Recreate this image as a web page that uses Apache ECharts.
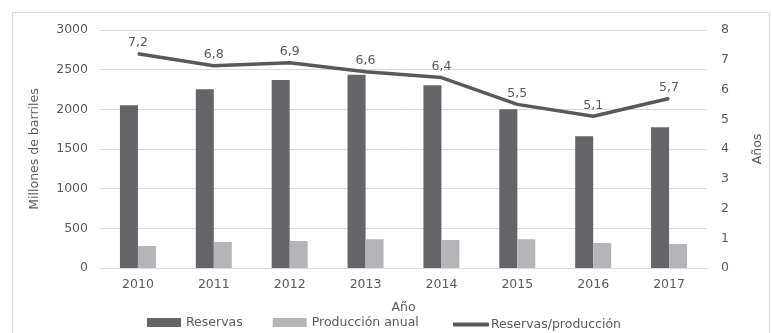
<!DOCTYPE html>
<html>
<head>
<meta charset="utf-8">
<script src="https://cdn.jsdelivr.net/npm/echarts@6/dist/echarts.min.js"></script>
<style>
  html, body { margin: 0; padding: 0; background: #fff; }
  #chart { width: 772px; height: 333px; }
</style>
</head>
<body>
<div id="chart"></div>
<script>
// data
const years = ['2010', '2011', '2012', '2013', '2014', '2015', '2016', '2017']
const reservas = [2050, 2252, 2370, 2437, 2303, 2000, 1660, 1773]
const produccion = [277, 328, 340, 362, 353, 362, 315, 302]
const ratio = [7.2, 6.8, 6.9, 6.6, 6.4, 5.5, 5.1, 5.7]

const font = '"DejaVu Sans", sans-serif'
const txt = '#595959'
const fs = 12.5

const myChart = echarts.init(document.getElementById('chart'))
const option = {
  animation: false,
  textStyle: { fontFamily: font, color: txt },
  graphic: [{
    type: 'rect',
    shape: { x: 12.5, y: 12.5, width: 757, height: 340 },
    style: { fill: 'none', stroke: '#d9d9d9', lineWidth: 1 },
    silent: true
  }],
  grid: { left: 100, right: 59, top: 30, bottom: 65 },
  legend: [{
    top: 316,
    left: 147,
    padding: 0,
    itemGap: 30,
    itemWidth: 34,
    itemHeight: 9,
    textStyle: { fontFamily: font, color: txt, fontSize: fs },
    data: [
      { name: 'Reservas', icon: 'rect' },
      { name: 'Producción anual', icon: 'rect' }
    ]
  }, {
    top: 318,
    left: 453,
    padding: 0,
    itemWidth: 36,
    itemHeight: 4,
    textStyle: { fontFamily: font, color: txt, fontSize: fs, padding: [0, 0, 0, -3] },
    data: [{ name: 'Reservas/producción', icon: 'roundRect' }]
  }],
  xAxis: {
    type: 'category',
    data: years,
    name: 'Año',
    nameLocation: 'middle',
    nameGap: 33,
    nameTextStyle: { fontFamily: font, color: txt, fontSize: fs },
    axisLine: { lineStyle: { color: '#d9d9d9' } },
    axisTick: { show: false },
    axisLabel: { color: txt, fontSize: fs, margin: 10 }
  },
  yAxis: [{
    type: 'value',
    min: 0, max: 3000, interval: 500,
    name: 'Millones de barriles',
    nameLocation: 'middle',
    nameGap: 59,
    nameTextStyle: { fontFamily: font, color: txt, fontSize: fs },
    axisLine: { show: false },
    axisTick: { show: false },
    axisLabel: { color: txt, fontSize: fs, margin: 12, formatter: v => String(v) },
    splitLine: { lineStyle: { color: '#d9d9d9' } }
  }, {
    type: 'value',
    min: 0, max: 8, interval: 1,
    name: 'Años',
    nameLocation: 'middle',
    nameGap: 44,
    nameRotate: 90,
    nameTextStyle: { fontFamily: font, color: txt, fontSize: fs },
    axisLine: { show: false },
    axisTick: { show: false },
    axisLabel: { color: txt, fontSize: fs, margin: 14 },
    splitLine: { show: false }
  }],
  series: [{
    name: 'Reservas',
    type: 'bar',
    data: reservas,
    barWidth: 18,
    barGap: '0%',
    itemStyle: { color: '#646569' }
  }, {
    name: 'Producción anual',
    type: 'bar',
    data: produccion,
    barWidth: 18,
    itemStyle: { color: '#b4b5b8' }
  }, {
    name: 'Reservas/producción',
    type: 'line',
    yAxisIndex: 1,
    data: ratio,
    symbol: 'circle',
    symbolSize: 1,
    lineStyle: { color: '#595959', width: 3.5 },
    itemStyle: { color: '#595959' },
    label: {
      show: true,
      position: 'top',
      distance: 4,
      color: txt,
      fontSize: fs,
      fontFamily: font,
      formatter: p => String(p.value).replace('.', ',')
    }
  }]
}
myChart.setOption(option)
</script>
</body>
</html>
